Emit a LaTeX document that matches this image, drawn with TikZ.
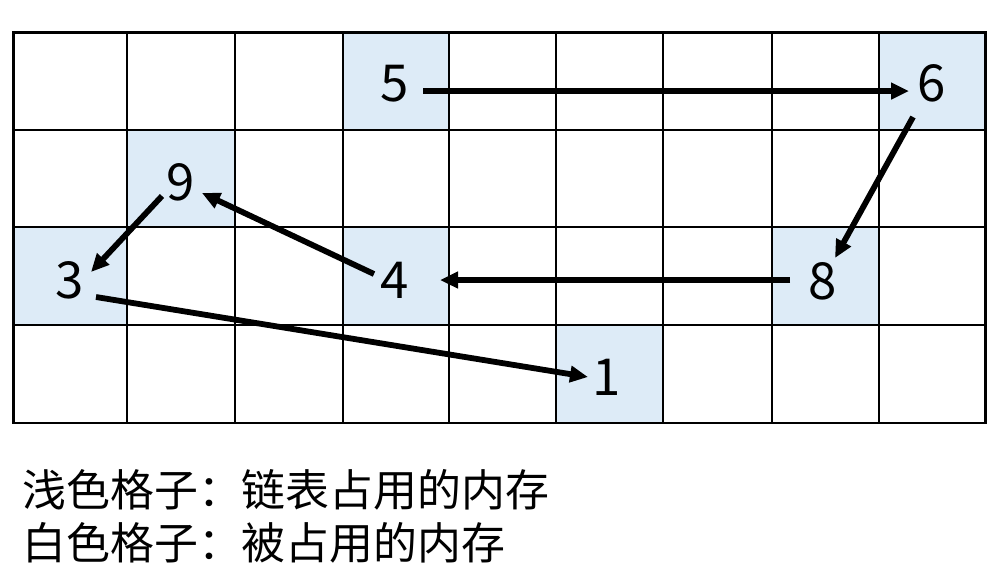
\documentclass[tikz,border=0pt]{standalone}
\usepackage{fontspec}
\setmainfont{Noto Sans CJK SC}
\usetikzlibrary{arrows.meta,calc}
\definecolor{cellblue}{RGB}{221,235,247}

\begin{document}
\begin{tikzpicture}[x=0.02cm,y=-0.02cm,
	link/.style={line width=3.3pt,-{Triangle[length=0.36cm,width=0.32cm]}},
	num/.style={font=\fontsize{29}{29}\selectfont,inner sep=0pt},
	key/.style={anchor=west,font=\fontsize{25}{25}\selectfont,inner sep=0pt}]
\useasboundingbox (0,0) rectangle (1000,583);
% cells in use
\foreach \xa/\xb/\ya/\yb in {343/449/32.5/130,879/985.5/32.5/130,127/235/130/227,13.5/127/227/325,343/449/227/325,772/879/227/325,556/663/325/423}
		\fill[cellblue] (\xa,\ya) rectangle (\xb,\yb);
% grid
\foreach \x in {13.5,127,235,343,449,556,663,772,879,985.5}
		\draw[line width=1.6pt,line cap=rect] (\x,32.5) -- (\x,423);
\foreach \y in {32.5,130,227,325,423}
		\draw[line width=1.6pt,line cap=rect] (13.5,\y) -- (985.5,\y);
% list nodes
\node[num] (n5) at (395,84) {5};
\node[num] (n6) at (932,83) {6};
\node[num] (n9) at (181,182) {9};
\node[num] (n3) at (70,280) {3};
\node[num] (n4) at (395,280) {4};
\node[num] (n8) at (823,281) {8};
\node[num] (n1) at (607,377) {1};
% links
\draw[link] ($(n5)+(28,7)$) -- ($(n6)+(-23,8)$);
\draw[link] ($(n6)+(-19,34)$) -- ($(n8)+(12,-23)$);
\draw[link] ($(n8)+(-33,-1)$) -- ($(n4)+(45,0)$);
\draw[link] ($(n4)+(-21,-6)$) -- ($(n9)+(21,11)$);
\draw[link] ($(n9)+(-19,14)$) -- ($(n3)+(21,-8)$);
\draw[link] ($(n3)+(26,17)$) -- ($(n1)+(-19,0)$);
% legend
\node[key] (key1) at (22,490) {浅色格子：链表占用的内存};
\node[key] (key2) at (22,543) {白色格子：被占用的内存};
\end{tikzpicture}
\end{document}
